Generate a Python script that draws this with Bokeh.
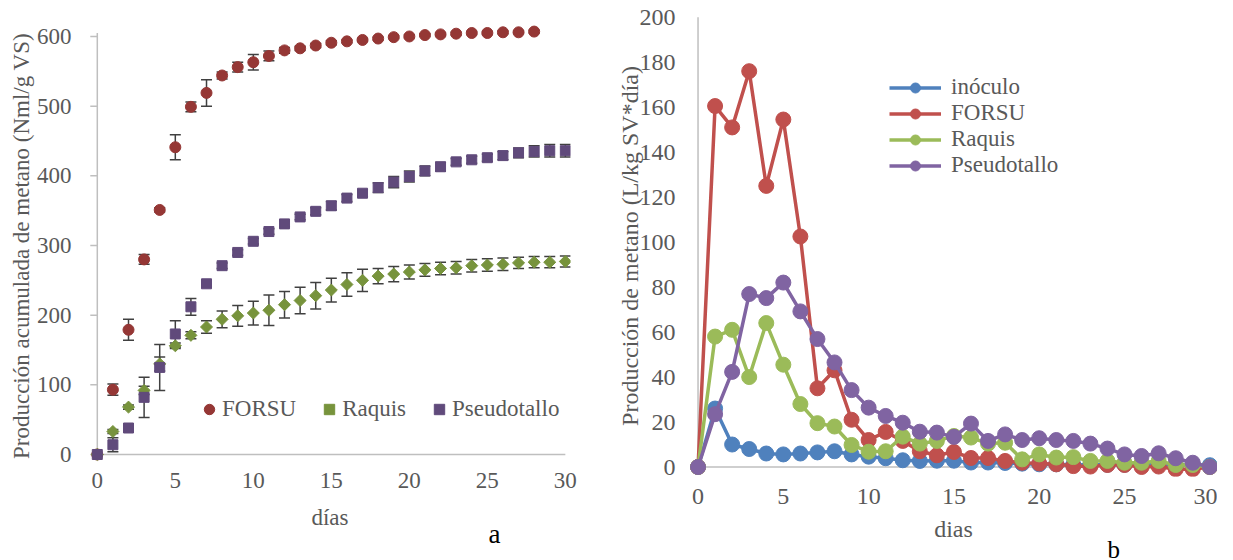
import math
from bokeh.plotting import figure
from bokeh.layouts import row
from bokeh.models import (ColumnDataSource, Whisker, TeeHead, FixedTicker,
                          Legend, LegendItem, Range1d, Title)
from bokeh.embed import file_html
from bokeh.resources import INLINE

# ---------------- data: chart a (cumulative production) ----------------
days_forsu = list(range(29))
forsu_cum = [0, 93, 179, 280, 351, 441, 499, 519, 544, 556, 563, 572, 580, 583, 587,
             591, 593, 595, 597, 599, 600, 602, 603, 604, 605, 605, 606, 606, 607]
forsu_err = [0, 8, 15, 7, 3, 18, 7, 19, 5, 7, 11, 7, 4, 3, 3,
             3, 2, 2, 2, 2, 2, 2, 2, 2, 2, 2, 2, 2, 2]
days_a = list(range(31))
raquis_cum = [0, 33, 68, 92, 130, 156, 171, 183, 194, 199, 203, 207, 215, 221, 228,
              236, 244, 250, 256, 259, 262, 265, 267, 268, 271, 272, 273, 275, 276, 276, 277]
raquis_err = [0, 3, 3, 6, 10, 4, 5, 9, 12, 15, 17, 22, 19, 19, 19,
              17, 17, 16, 11, 11, 10, 9, 9, 9, 9, 9, 9, 8, 8, 8, 8]
pseudo_cum = [0, 14, 38, 82, 125, 173, 212, 245, 271, 290, 306, 320, 331, 341, 349,
              357, 368, 375, 383, 391, 399, 407, 413, 420, 423, 426, 429, 433, 435, 436, 436]
pseudo_err = [0, 10, 4, 29, 33, 19, 12, 4, 4, 4, 4, 4, 4, 4, 5,
              6, 5, 5, 7, 8, 8, 7, 6, 5, 5, 5, 6, 7, 8, 9, 9]

# ---------------- data: chart b (daily production) ----------------
days_b = list(range(31))
inoculo_d = [0, 26, 10, 8, 6, 5.6, 6, 6.5, 7, 5.6, 4.6, 3.9, 3, 2.7, 2.8,
             2.8, 2, 2, 1.8, 1.5, 1.2, 1.2, 1, 1, 1, 1, 1, 1.2, 1, 0.8, 0.8]
forsu_d = [0, 160.5, 151, 176, 125, 154.5, 102.5, 35, 43, 21, 12, 15.6, 11.6, 7, 5.2,
           6.7, 4, 4, 2.7, 1.9, 1.6, 1.2, 0.4, 0.2, 0.9, 0.9, 0, 0.2, -1, -1, 0]
raquis_d = [0, 58, 61, 40, 64, 45.5, 28, 19.5, 18, 9.8, 6.8, 7, 13.5, 10.4, 11.6,
            13.8, 13.1, 10.4, 10.8, 3.4, 5.6, 4.2, 4.4, 2.7, 2.7, 1.9, 1.9, 2.7, 0.9, 0.9, 0]
pseudo_d = [0, 23.5, 42.3, 76.9, 75.1, 82, 69.2, 56.9, 46.5, 34.2, 26.4, 22.7, 19.7, 15.7, 15.3,
            13.4, 19.3, 11.6, 14.5, 12, 12.8, 12, 11.6, 10.4, 8.2, 5.6, 4.9, 6.1, 3.9, 1.9, 0]

x_ticks = [0, 5, 10, 15, 20, 25, 30]
ya_ticks = [0, 100, 200, 300, 400, 500, 600]
yb_ticks = [0, 20, 40, 60, 80, 100, 120, 140, 160, 180, 200]

FONT = "Liberation Serif"
GRAY = "#595959"
AXIS = "#BFBFBF"
ERR = "#404040"


def base_style(p, fs):
    p.outline_line_color = None
    p.xgrid.visible = False
    p.ygrid.visible = False
    for ax in (p.xaxis[0], p.yaxis[0]):
        ax.axis_line_color = None
        ax.major_tick_line_color = None
        ax.minor_tick_line_color = None
        ax.major_tick_out = 0
        ax.major_tick_in = 0
        ax.major_label_text_font = FONT
        ax.major_label_text_font_size = fs
        ax.major_label_text_color = GRAY
        ax.axis_label_text_font = FONT
        ax.axis_label_text_font_size = fs
        ax.axis_label_text_color = GRAY
        ax.axis_label_text_font_style = "normal"


# ======================= chart a =======================
pa = figure(width=600, height=560,
            min_border_left=89, min_border_right=30, min_border_top=15, min_border_bottom=84,
            x_range=Range1d(-0.5, 30.33), y_range=Range1d(-31.6, 630.1),
            output_backend="svg", toolbar_location=None)
base_style(pa, "23px")
pa.xaxis.ticker = FixedTicker(ticks=x_ticks)
pa.yaxis.ticker = FixedTicker(ticks=ya_ticks)
pa.xaxis.axis_label = "días"
pa.yaxis.axis_label = "Producción acumulada de metano (Nml/g VS)"
pa.xaxis.major_label_standoff = -4
pa.yaxis.major_label_standoff = 18
pa.xaxis.axis_label_standoff = 14
pa.yaxis.axis_label_standoff = 0

pa.segment(x0=[x_ticks[0]], y0=[0], x1=[x_ticks[-1]], y1=[0], line_color=AXIS, line_width=1.5)
pa.segment(x0=[0], y0=[0], x1=[0], y1=[605], line_color=AXIS, line_width=1.5)
pa.segment(x0=[-0.45] * len(ya_ticks), y0=ya_ticks, x1=[0] * len(ya_ticks), y1=ya_ticks,
           line_color=AXIS, line_width=1.5)

src_f = ColumnDataSource(dict(x=days_forsu, y=forsu_cum,
                              lo=[v - e for v, e in zip(forsu_cum, forsu_err)],
                              hi=[v + e for v, e in zip(forsu_cum, forsu_err)]))
src_r = ColumnDataSource(dict(x=days_a, y=raquis_cum,
                              lo=[v - e for v, e in zip(raquis_cum, raquis_err)],
                              hi=[v + e for v, e in zip(raquis_cum, raquis_err)]))
src_p = ColumnDataSource(dict(x=days_a, y=pseudo_cum,
                              lo=[v - e for v, e in zip(pseudo_cum, pseudo_err)],
                              hi=[v + e for v, e in zip(pseudo_cum, pseudo_err)]))

rf = pa.scatter("x", "y", source=src_f, marker="circle", size=11,
                fill_color="#953735", line_color="#953735")
rr = pa.scatter("x", "y", source=src_r, marker="square", size=8.5, angle=math.pi / 4,
                fill_color="#77933C", line_color="#77933C")
rp = pa.scatter("x", "y", source=src_p, marker="square", size=10,
                fill_color="#604A7B", line_color="#604A7B")

for s in (src_f, src_r, src_p):
    w = Whisker(source=s, base="x", lower="lo", upper="hi", line_color=ERR, line_width=1.5,
                upper_head=TeeHead(size=11, line_color=ERR, line_width=1.5),
                lower_head=TeeHead(size=11, line_color=ERR, line_width=1.5))
    pa.add_layout(w)

leg_a = Legend(items=[LegendItem(label="FORSU", renderers=[rf]),
                      LegendItem(label="Raquis", renderers=[rr]),
                      LegendItem(label="Pseudotallo", renderers=[rp])],
               orientation="horizontal", location=(107, 54),
               background_fill_alpha=0, border_line_color=None,
               label_text_font=FONT, label_text_font_size="23px", label_text_color=GRAY,
               glyph_width=26, glyph_height=26, label_height=26, label_standoff=0,
               spacing=20, padding=0, margin=0)
pa.add_layout(leg_a)
pa.add_layout(Title(text="a", align="left", offset=399, standoff=-33,
                    text_font=FONT, text_font_size="27px", text_font_style="normal",
                    text_color="black"), "below")

# ======================= chart b =======================
pb = figure(width=617, height=560,
            min_border_left=89, min_border_right=0, min_border_top=15, min_border_bottom=84,
            x_range=Range1d(-0.5, 30.45), y_range=Range1d(-4.22, 200.76),
            output_backend="svg", toolbar_location=None)
base_style(pb, "24px")
pb.xaxis.ticker = FixedTicker(ticks=x_ticks)
pb.yaxis.ticker = FixedTicker(ticks=yb_ticks)
pb.xaxis.axis_label = "dias"
pb.yaxis.axis_label = "Producción de metano (L/kg SV*día)"
pb.xaxis.major_label_standoff = 12
pb.yaxis.major_label_standoff = 14
pb.xaxis.axis_label_standoff = 9
pb.yaxis.axis_label_standoff = -6

pb.segment(x0=[x_ticks[0]], y0=[0], x1=[x_ticks[-1]], y1=[0], line_color=AXIS, line_width=1.5)
pb.segment(x0=[0], y0=[0], x1=[0], y1=[yb_ticks[-1]], line_color=AXIS, line_width=1.5)

series_b = [("inóculo", inoculo_d, "#4F81BD"),
            ("FORSU", forsu_d, "#C0504D"),
            ("Raquis", raquis_d, "#9BBB59"),
            ("Pseudotallo", pseudo_d, "#8064A2")]
items_b = []
for name, vals, col in series_b:
    src = ColumnDataSource(dict(x=days_b, y=vals))
    l = pb.line("x", "y", source=src, line_color=col, line_width=3.5)
    m = pb.scatter("x", "y", source=src, marker="circle", size=15,
                   fill_color=col, line_color=col)
    items_b.append(LegendItem(label=name, renderers=[l, m]))

leg_b = Legend(items=items_b, orientation="vertical", location=(200, 298),
               background_fill_alpha=0, border_line_color=None,
               label_text_font=FONT, label_text_font_size="23px", label_text_color=GRAY,
               glyph_width=52, glyph_height=25, label_height=25, label_standoff=10,
               spacing=0, padding=0, margin=0)
pb.add_layout(leg_b)
pb.add_layout(Title(text="b", align="left", offset=418, standoff=-22,
                    text_font=FONT, text_font_size="25px", text_font_style="normal",
                    text_color="black"), "below")

layout = row(pa, pb)
open("out.html", "w").write(file_html(layout, INLINE))
